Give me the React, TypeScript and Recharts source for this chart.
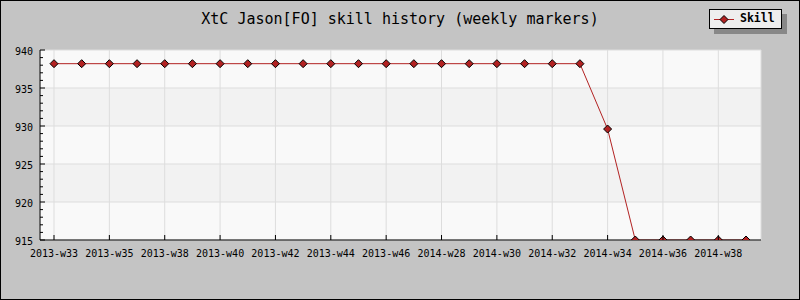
import { CartesianGrid, Line, LineChart, XAxis, YAxis } from "recharts";

const weeks = [
  "2013-w33", "2013-w34", "2013-w35", "2013-w37", "2013-w38", "2013-w39",
  "2013-w40", "2013-w41", "2013-w42", "2013-w43", "2013-w44", "2013-w45",
  "2013-w46", "2014-w27", "2014-w28", "2014-w29", "2014-w30", "2014-w31",
  "2014-w32", "2014-w33", "2014-w34", "2014-w35", "2014-w36", "2014-w37",
  "2014-w38", "2014-w39",
];

const skill = [
  938.2, 938.2, 938.2, 938.2, 938.2, 938.2, 938.2, 938.2, 938.2, 938.2,
  938.2, 938.2, 938.2, 938.2, 938.2, 938.2, 938.2, 938.2, 938.2, 938.2,
  929.6, 915, 915, 915, 915, 915,
];

// every other week gets a label and a grid line
const weekTicks = weeks.filter((_, i) => i % 2 === 0);
const yMajor = [915, 920, 925, 930, 935, 940];
const yMinor = Array.from({ length: 26 }, (_, i) => 915 + i);

const seriesName = "Skill";
const title = "XtC Jason[FO] skill history (weekly markers)";

const RED = "#b22222";
const MONO = "'DejaVu Sans Mono', monospace";

const data = weeks.map((week, i) => ({ week, skill: skill[i] }));

function Diamond({ cx, cy }: any) {
  if (cx == null || cy == null) return null;
  const r = 4;
  return (
    <polygon
      points={`${cx},${cy - r} ${cx + r},${cy} ${cx},${cy + r} ${cx - r},${cy}`}
      fill={RED}
      stroke="#000"
      strokeWidth={1}
    />
  );
}

function XTick({ x, y, payload }: any) {
  return (
    <g>
      <line x1={x} x2={x} y1={y} y2={y - 5} stroke="#000" />
      <text x={x} y={y + 17} textAnchor="middle" fontFamily={MONO} fontSize={10} fill="#000">
        {payload.value}
      </text>
    </g>
  );
}

function YTick({ x, y, payload }: any) {
  const major = payload.value % 5 === 0;
  return (
    <g>
      <line x1={x} x2={x + (major ? 5 : 3)} y1={y} y2={y} stroke="#000" />
      {major && (
        <text x={x - 7} y={y + 4.5} textAnchor="end" fontFamily={MONO} fontSize={10} fill="#000">
          {payload.value}
        </text>
      )}
    </g>
  );
}

export default function App() {
  return (
    <div style={{ position: "absolute", left: 0, top: 0, width: 800, height: 300, background: "#c4c4c4" }}>
      <LineChart
        width={800}
        height={300}
        data={data}
        margin={{ top: 50, right: 39, bottom: 30, left: 0 }}
      >
        <CartesianGrid
          stroke="#dddddd"
          horizontalValues={yMajor}
          horizontalFill={["#f9f9f9", "#f2f2f2"]}
          fillOpacity={1}
        />
        <XAxis
          dataKey="week"
          ticks={weekTicks}
          interval={0}
          height={30}
          padding={{ left: 14, right: 15 }}
          axisLine={{ stroke: "#000" }}
          tickLine={false}
          tickSize={0}
          tickMargin={0}
          tick={<XTick />}
        />
        <YAxis
          domain={[915, 940]}
          ticks={yMinor}
          interval={0}
          width={40}
          allowDataOverflow
          axisLine={{ stroke: "#000" }}
          tickLine={false}
          tickSize={0}
          tickMargin={0}
          tick={<YTick />}
        />
        <Line
          type="linear"
          dataKey="skill"
          name={seriesName}
          stroke={RED}
          strokeWidth={1}
          dot={<Diamond />}
          activeDot={false}
          isAnimationActive={false}
        />
      </LineChart>

      <div
        style={{
          position: "absolute",
          left: 0,
          top: 10,
          width: 800,
          textAlign: "center",
          fontFamily: MONO,
          fontSize: 15,
          color: "#000",
        }}
      >
        {title}
      </div>

      <div
        style={{
          position: "absolute",
          left: 709,
          top: 9,
          width: 71,
          height: 18,
          background: "#eeeeee",
          border: "1px solid #000",
          boxShadow: "5px 5px 0 #888",
        }}
      >
        <svg width={26} height={18} style={{ position: "absolute", left: 3, top: 0 }}>
          <line x1={1} x2={21} y1={9.5} y2={9.5} stroke={RED} />
          <polygon points="11,5.5 15,9.5 11,13.5 7,9.5" fill={RED} stroke="#000" />
        </svg>
        <span
          style={{
            position: "absolute",
            left: 30,
            top: 1,
            fontFamily: MONO,
            fontSize: 11.5,
            fontWeight: "bold",
            color: "#000",
          }}
        >
          {seriesName}
        </span>
      </div>

      <div
        style={{
          position: "absolute",
          left: 0,
          top: 0,
          width: 800,
          height: 300,
          boxSizing: "border-box",
          border: "1px solid #000",
          pointerEvents: "none",
        }}
      />
    </div>
  );
}
